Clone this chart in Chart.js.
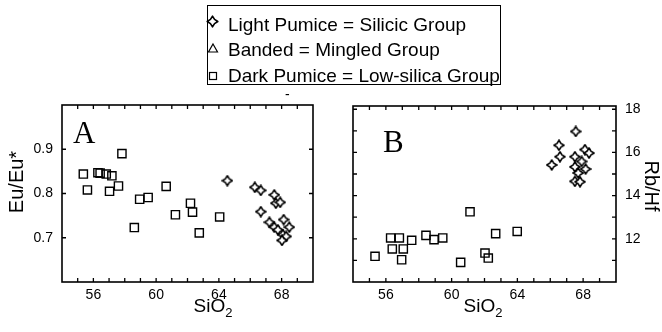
<!DOCTYPE html>
<html>
<head>
<meta charset="utf-8">
<script src="https://cdn.jsdelivr.net/npm/chart.js@4.4.1/dist/chart.umd.min.js"></script>
<style>
  html, body { margin: 0; padding: 0; background: #fff; }
  body { width: 662px; height: 332px; position: relative; overflow: hidden; font-family: "Liberation Sans", Arial, sans-serif; }
  #chartA { position: absolute; left: 0; top: 0; }
  #chartB { position: absolute; left: 331px; top: 0; }
  #legend { position: absolute; left: 207px; top: 5px; width: 294px; height: 80px; border: 1px solid #000; box-sizing: border-box; }
  #legend .row { position: absolute; left: 20px; font-size: 19px; line-height: 19px; color: #000; white-space: nowrap; }
  #legend canvas { position: absolute; }
  .dash { position: absolute; left: 285px; top: 86px; font-size: 14px; }
</style>
</head>
<body>
<canvas id="chartA" width="331" height="332"></canvas>
<canvas id="chartB" width="331" height="332"></canvas>
<div id="legend">
  <canvas id="symStar" width="13" height="13" style="left:-2px;top:9px"></canvas>
  <div class="row" style="top:9px">Light Pumice = Silicic Group</div>
  <canvas id="symTri" width="12" height="12" style="left:-1px;top:36px"></canvas>
  <div class="row" style="top:34px">Banded = Mingled Group</div>
  <canvas id="symSq" width="12" height="12" style="left:-1px;top:64px"></canvas>
  <div class="row" style="top:60px">Dark Pumice = Low-silica Group</div>
</div>
<div class="dash">-</div>
<script>
// tick labels
const sio2Labels = [56, 60, 64, 68];
const euLabels = [0.7, 0.8, 0.9];
const rbLabels = [12, 14, 16, 18];

// panel A: Eu/Eu* vs SiO2
const lightSiO2A = [64.54, 66.29, 66.67, 67.53, 67.63, 67.91, 66.67, 67.22, 67.53, 68.13, 68.49, 67.76, 68.08, 68.29, 68.02];
const lightEu    = [0.829, 0.814, 0.807, 0.797, 0.778, 0.780, 0.759, 0.735, 0.724, 0.741, 0.724, 0.718, 0.707, 0.703, 0.694];
const darkSiO2A  = [55.36, 55.62, 56.29, 56.43, 56.82, 57.18, 57.03, 57.60, 57.82, 58.61, 58.95, 59.49, 60.64, 61.23, 62.19, 62.32, 62.75, 64.05];
const darkEu     = [0.844, 0.808, 0.847, 0.846, 0.844, 0.840, 0.805, 0.817, 0.890, 0.723, 0.787, 0.791, 0.816, 0.752, 0.778, 0.758, 0.711, 0.747];

// panel B: Rb/Hf vs SiO2
const lightSiO2B = [67.55, 66.53, 66.59, 66.09, 67.50, 68.11, 68.36, 67.91, 67.50, 68.15, 67.70, 67.50, 67.81];
const lightRbHf  = [16.97, 16.33, 15.80, 15.42, 15.80, 16.13, 15.97, 15.58, 15.33, 15.23, 15.05, 14.66, 14.64];
const darkSiO2B  = [55.34, 56.29, 56.82, 56.39, 57.06, 57.57, 56.96, 58.44, 58.93, 59.46, 60.55, 61.12, 62.03, 62.23, 62.68, 63.99];
const darkRbHf   = [11.19, 12.04, 12.04, 11.53, 11.53, 11.93, 11.03, 12.16, 11.96, 12.04, 10.91, 13.25, 11.34, 11.11, 12.24, 12.34];

Chart.defaults.font.family = '"Liberation Sans", Arial, sans-serif';
Chart.defaults.color = '#000';

function starImage(size) {
  const c = document.createElement('canvas');
  c.width = c.height = size;
  drawStar(c.getContext('2d'), size / 2, size / 2, size / 2 - 1);
  return c;
}
function drawStar(ctx, cx, cy, r) {
  ctx.beginPath();
  for (let i = 0; i < 8; i++) {
    const a = -Math.PI / 2 + i * Math.PI / 4;
    const rr = i % 2 ? r * 0.55 : r;
    ctx.lineTo(cx + rr * Math.cos(a), cy + rr * Math.sin(a));
  }
  ctx.closePath();
  ctx.fillStyle = '#fff';
  ctx.fill();
  ctx.lineWidth = 1.6;
  ctx.lineJoin = 'round';
  ctx.strokeStyle = '#000';
  ctx.stroke();
}
const star = starImage(12);

function pts(xs, ys) { return xs.map((x, i) => ({x: x, y: ys[i]})); }
function hasLabel(list, v) { return list.some(s => Math.abs(s - v) < 1e-6); }

// frame, inward ticks on all sides, titles
const framePlugin = {
  id: 'frame',
  afterDraw(chart, args, opts) {
    const ctx = chart.ctx, a = chart.chartArea;
    const xs = chart.scales.x, ys = chart.scales.y;
    ctx.save();
    ctx.strokeStyle = '#000';
    ctx.lineWidth = 1.3;
    const L = 4;
    ctx.beginPath();
    xs.ticks.forEach(t => {
      const p = xs.getPixelForValue(t.value);
      if (p <= a.left + 1 || p >= a.right - 1) return;
      ctx.moveTo(p, a.bottom); ctx.lineTo(p, a.bottom - L);
      ctx.moveTo(p, a.top); ctx.lineTo(p, a.top + L);
    });
    ys.ticks.forEach(t => {
      const p = ys.getPixelForValue(t.value);
      if (p <= a.top + 1 || p >= a.bottom - 1) return;
      ctx.moveTo(a.left, p); ctx.lineTo(a.left + L, p);
      ctx.moveTo(a.right, p); ctx.lineTo(a.right - L, p);
    });
    ctx.stroke();
    ctx.lineWidth = 1.6;
    ctx.strokeRect(a.left, a.top, a.right - a.left, a.bottom - a.top);

    ctx.fillStyle = '#000';
    // panel letter
    ctx.font = '31px "Liberation Serif", "Times New Roman", serif';
    ctx.textBaseline = 'alphabetic';
    ctx.textAlign = 'left';
    ctx.fillText(opts.letter, a.left + opts.letterX, a.top + opts.letterY);
    // x title SiO2
    ctx.font = '19px "Liberation Sans", Arial, sans-serif';
    const base = 'SiO';
    const w = ctx.measureText(base).width;
    ctx.font = '13px "Liberation Sans", Arial, sans-serif';
    const w2 = ctx.measureText('2').width;
    const x0 = opts.titleCx - (w + w2) / 2;
    ctx.font = '19px "Liberation Sans", Arial, sans-serif';
    ctx.fillText(base, x0, 312);
    ctx.font = '13px "Liberation Sans", Arial, sans-serif';
    ctx.fillText('2', x0 + w, 317);
    // y title
    ctx.font = '20px "Liberation Sans", Arial, sans-serif';
    ctx.textAlign = 'center';
    ctx.textBaseline = 'middle';
    ctx.translate(opts.yTitleX, opts.yTitleY);
    ctx.rotate(opts.yTitleRot);
    ctx.fillText(opts.yTitle, 0, 0);
    ctx.restore();
  }
};

function xScale() {
  return {
    type: 'linear', position: 'bottom', min: 54, max: 70,
    grid: { display: false, drawTicks: false }, border: { display: false },
    ticks: { stepSize: 1, autoSkip: false, maxRotation: 0, padding: 5, font: { size: 14 },
      callback: v => hasLabel(sio2Labels, v) ? String(v) : '' },
    afterFit: s => { s.height = 50; }
  };
}

new Chart(document.getElementById('chartA'), {
  type: 'scatter',
  data: {
    datasets: [
      { label: 'Dark Pumice = Low-silica Group', data: pts(darkSiO2A, darkEu), pointStyle: 'rect',
        pointRadius: 5.8, borderColor: '#000', backgroundColor: 'rgba(0,0,0,0)', borderWidth: 1.4 },
      { label: 'Light Pumice = Silicic Group', data: pts(lightSiO2A, lightEu), pointStyle: star,
        pointRadius: 6 }
    ]
  },
  options: {
    responsive: false, animation: false,
    layout: { padding: { top: 105, right: 18, left: 0, bottom: 0 } },
    plugins: { legend: { display: false }, tooltip: { enabled: false },
      frame: { letter: 'A', letterX: 11, letterY: 38, titleCx: 213, yTitle: 'Eu/Eu*', yTitleX: 17, yTitleY: 182, yTitleRot: -Math.PI / 2 } },
    scales: {
      x: xScale(),
      y: {
        type: 'linear', position: 'left', min: 0.6, max: 1.0,
        grid: { display: false, drawTicks: false }, border: { display: false },
        ticks: { stepSize: 0.1, autoSkip: false, padding: 9, font: { size: 14 },
          callback: v => hasLabel(euLabels, v) ? v.toFixed(1) : '' },
        afterFit: s => { s.width = 62; }
      }
    }
  },
  plugins: [framePlugin]
});

new Chart(document.getElementById('chartB'), {
  type: 'scatter',
  data: {
    datasets: [
      { label: 'Dark Pumice = Low-silica Group', data: pts(darkSiO2B, darkRbHf), pointStyle: 'rect',
        pointRadius: 5.8, borderColor: '#000', backgroundColor: 'rgba(0,0,0,0)', borderWidth: 1.4 },
      { label: 'Light Pumice = Silicic Group', data: pts(lightSiO2B, lightRbHf), pointStyle: star,
        pointRadius: 6 }
    ]
  },
  options: {
    responsive: false, animation: false,
    layout: { padding: { top: 106, right: 0, left: 22, bottom: 0 } },
    plugins: { legend: { display: false }, tooltip: { enabled: false },
      frame: { letter: 'B', letterX: 30, letterY: 46, titleCx: 152, yTitle: 'Rb/Hf', yTitleX: 320, yTitleY: 186, yTitleRot: Math.PI / 2 } },
    scales: {
      x: xScale(),
      y: {
        type: 'linear', position: 'right', min: 10, max: 18.15,
        grid: { display: false, drawTicks: false }, border: { display: false },
        ticks: { stepSize: 1, autoSkip: false, includeBounds: false, padding: 9, font: { size: 14 },
          callback: v => hasLabel(rbLabels, v) ? String(v) : '' },
        afterFit: s => { s.width = 46; }
      }
    }
  },
  plugins: [framePlugin]
});

// legend symbols
(function () {
  const s = document.getElementById('symStar').getContext('2d');
  drawStar(s, 6.5, 6.5, 5.3);
  const t = document.getElementById('symTri').getContext('2d');
  t.beginPath(); t.moveTo(6, 2); t.lineTo(10.5, 10); t.lineTo(1.5, 10); t.closePath();
  t.lineWidth = 1.2; t.strokeStyle = '#000'; t.stroke();
  const q = document.getElementById('symSq').getContext('2d');
  q.lineWidth = 1.2; q.strokeStyle = '#000'; q.strokeRect(2.5, 2.5, 7, 7);
})();
</script>
</body>
</html>
